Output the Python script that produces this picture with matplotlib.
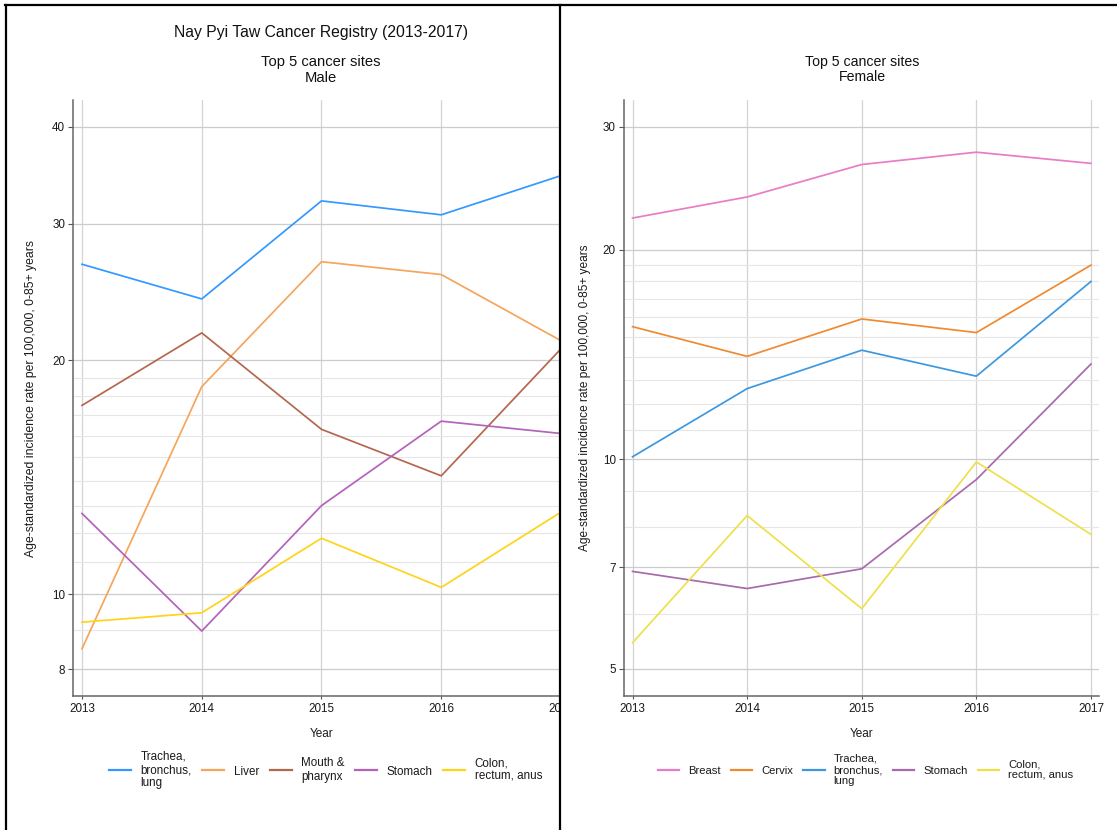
import numpy as np
import matplotlib.pyplot as plt
from matplotlib.ticker import FixedLocator, NullFormatter
from matplotlib.patches import Rectangle
from matplotlib.lines import Line2D

plt.rcParams['font.family'] = ['Liberation Sans', 'DejaVu Sans']

years = [2013, 2014, 2015, 2016, 2017]

# Male, top 5 sites (ASR per 100,000)
male_sites = ['Trachea,\nbronchus,\nlung', 'Liver', 'Mouth &\npharynx', 'Stomach', 'Colon,\nrectum, anus']
male_trachea = [26.6, 24.0, 32.1, 30.8, 34.6]
male_liver = [8.5, 18.5, 26.8, 25.8, 21.2]
male_mouth = [17.5, 21.7, 16.3, 14.2, 20.7]
male_stomach = [12.7, 8.96, 13.0, 16.7, 16.1]
male_colon = [9.2, 9.46, 11.8, 10.2, 12.75]
male_colors = ['#3399ff', '#f5a55c', '#b5674e', '#b462ba', '#ffd31a']

# Female, top 5 sites
female_sites = ['Breast', 'Cervix', 'Trachea,\nbronchus,\nlung', 'Stomach', 'Colon,\nrectum, anus']
female_breast = [22.2, 23.8, 26.5, 27.6, 26.6]
female_cervix = [15.5, 14.05, 15.9, 15.2, 19.0]
female_trachea = [10.08, 12.63, 14.34, 13.16, 18.0]
female_stomach = [6.9, 6.52, 6.96, 9.35, 13.7]
female_colon = [5.45, 8.3, 6.1, 9.91, 7.8]
female_colors = ['#e97cc6', '#f08a30', '#3d98e0', '#a86aad', '#efe04a']

male_yticks = [8, 10, 20, 30, 40]
female_yticks = [5, 7, 10, 20, 30]
minor_vals = list(range(5, 20))

ylab = 'Age-standardized incidence rate per 100,000, 0-85+ years'

W, H = 1117, 830
fig = plt.figure(figsize=(W / 100, H / 100), dpi=100)


def box(x0, y0, x1, y1):
    return [x0 / W, 1 - y1 / H, (x1 - x0) / W, (y1 - y0) / H]


def style(ax, xlim, ylim, majors, ylab_x, ylab_size):
    ax.set_yscale('log')
    ax.set_xlim(xlim)
    ax.set_ylim(ylim)
    ax.set_xticks(years)
    ax.set_xticklabels([str(y) for y in years])
    ax.yaxis.set_major_locator(FixedLocator(majors))
    ax.yaxis.set_major_formatter(plt.FixedFormatter([str(v) for v in majors]))
    ax.yaxis.set_minor_locator(FixedLocator([v for v in minor_vals if v not in majors]))
    ax.yaxis.set_minor_formatter(NullFormatter())
    ax.tick_params(axis='y', which='minor', length=0)
    ax.tick_params(axis='both', which='major', labelsize=8.4, colors='#555555',
                   labelcolor='#1a1a1a', width=0.8)
    ax.tick_params(axis='y', which='major', length=3.4, pad=2.2)
    ax.tick_params(axis='x', which='major', length=2.5, pad=2.5)
    ax.grid(True, axis='y', which='major', color='#cccccc', lw=0.9)
    ax.grid(True, axis='y', which='minor', color='#e6e6e6', lw=0.8)
    ax.grid(True, axis='x', which='major', color='#d4d4d4', lw=0.9)
    ax.set_axisbelow(True)
    for s in ['top', 'right']:
        ax.spines[s].set_visible(False)
    for s in ['left', 'bottom']:
        ax.spines[s].set_color('#666666')
        ax.spines[s].set_linewidth(1.1)
    ax.set_xlabel('Year', fontsize=8.5, color='#1a1a1a', va='center')
    ax.xaxis.set_label_coords(0.5, -38 / 596)
    ax.set_ylabel(ylab, fontsize=ylab_size, color='#1a1a1a', va='center')
    ax.yaxis.set_label_coords(ylab_x, 0.5)


# left panel (male)
ax1 = fig.add_axes(box(73, 100, 570, 696), zorder=0)
for vals, lab, c in zip([male_trachea, male_liver, male_mouth, male_stomach, male_colon],
                        male_sites, male_colors):
    ax1.plot(years, vals, color=c, lw=1.25, label=lab)
style(ax1, (2012.925, 2017.075), (7.39, 43.3), male_yticks, (31 - 73) / 497, 8.8)
leg1 = ax1.legend(loc='center', bbox_to_anchor=(325.5 / W, 1 - 770 / H),
                  bbox_transform=fig.transFigure, ncol=5, frameon=False, fontsize=8.4,
                  handlelength=1.9, handletextpad=0.8, columnspacing=0.9)
for t in leg1.get_texts():
    t.set_linespacing(1.15)
    t.set_color('#1a1a1a')
for h in leg1.legend_handles:
    h.set_linewidth(1.6)

# white cover so the left panel looks cut off like the screenshot
fig.add_artist(Rectangle((561 / W, 0), 1 - 561 / W, 1, transform=fig.transFigure,
                         facecolor='white', edgecolor='none', zorder=1))

# right panel (female)
ax2 = fig.add_axes(box(623.5, 100, 1099, 696), zorder=2)
for vals, lab, c in zip([female_breast, female_cervix, female_trachea, female_stomach, female_colon],
                        female_sites, female_colors):
    ax2.plot(years, vals, color=c, lw=1.25, label=lab)
style(ax2, (2012.921, 2017.07), (4.57, 32.8), female_yticks, (584.7 - 623.5) / 475.5, 8.6)
leg2 = ax2.legend(loc='center', bbox_to_anchor=(865.5 / W, 1 - 770 / H),
                  bbox_transform=fig.transFigure, ncol=5, frameon=False, fontsize=8.1,
                  handlelength=1.9, handletextpad=0.8, columnspacing=0.9)
for t in leg2.get_texts():
    t.set_linespacing(1.15)
    t.set_color('#1a1a1a')
for h in leg2.legend_handles:
    h.set_linewidth(1.6)

# titles
fig.text(321 / W, 1 - 33 / H, 'Nay Pyi Taw Cancer Registry (2013-2017)', ha='center',
         va='center', fontsize=11.3, color='#111111', zorder=0)
fig.text(321 / W, 1 - 70 / H, 'Top 5 cancer sites\nMale', ha='center', va='center',
         fontsize=10.6, linespacing=1.15, color='#111111', zorder=0)
fig.text(862 / W, 1 - 69.5 / H, 'Top 5 cancer sites\nFemale', ha='center', va='center',
         fontsize=10.2, linespacing=1.1, color='#111111', zorder=3)

# screenshot borders
for xs, ys in [([6, 6], [5, H]), ([5, W], [5, 5]), ([560, 560], [5, H])]:
    fig.add_artist(Line2D([x / W for x in xs], [1 - y / H for y in ys],
                          transform=fig.transFigure, color='black', lw=1.6, zorder=5))

fig.savefig('out.png', dpi=100, facecolor='white')
